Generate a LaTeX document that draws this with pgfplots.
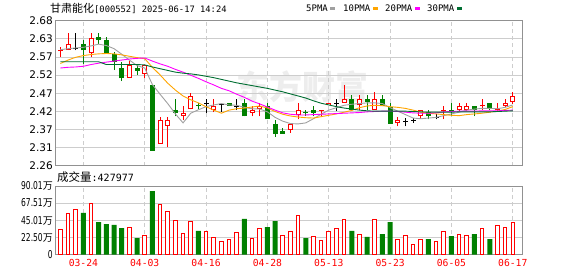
\documentclass[border=0pt]{standalone}
\usepackage{pgfplots}
\pgfplotsset{compat=1.18}
\usepackage{pgfplotstable}
\usepackage{fontspec}
\setmainfont{DejaVu Sans}
\newfontfamily\cjk{Noto Sans CJK SC}
\newfontfamily\mono{DejaVu Sans Mono}
\newfontfamily\narrow[FakeStretch=0.7]{DejaVu Sans}
\definecolor{kred}{RGB}{255,0,0}
\definecolor{kgreen}{RGB}{0,128,0}
\definecolor{ma5}{RGB}{160,160,160}
\definecolor{ma10}{RGB}{255,165,0}
\definecolor{ma20}{RGB}{255,0,255}
\definecolor{ma30}{RGB}{0,110,50}
\definecolor{gridc}{RGB}{205,205,205}
\definecolor{framec}{RGB}{145,145,145}
\newcommand\wan{{\cjk\fontsize{10}{10}\selectfont 万}}

\pgfplotstableread{
i O H L C
0 2.592 2.604 2.575 2.595
1 2.595 2.644 2.595 2.612
4 2.585 2.644 2.576 2.631
9 2.515 2.563 2.515 2.551
11 2.526 2.553 2.513 2.551
13 2.324 2.400 2.324 2.391
14 2.375 2.400 2.313 2.391
16 2.403 2.432 2.391 2.412
17 2.423 2.472 2.423 2.461
20 2.422 2.452 2.415 2.434
25 2.414 2.432 2.403 2.421
26 2.424 2.442 2.403 2.433
30 2.364 2.384 2.355 2.381
31 2.408 2.441 2.394 2.420
34 2.419 2.421 2.405 2.421
35 2.436 2.442 2.436 2.442
37 2.443 2.493 2.443 2.452
39 2.435 2.464 2.422 2.452
41 2.422 2.473 2.422 2.452
44 2.383 2.400 2.374 2.393
47 2.403 2.421 2.396 2.420
50 2.418 2.434 2.394 2.421
52 2.421 2.442 2.418 2.432
53 2.421 2.442 2.418 2.432
55 2.432 2.452 2.421 2.433
57 2.420 2.442 2.418 2.421
58 2.434 2.452 2.429 2.441
59 2.444 2.473 2.439 2.462
}\redtab

\pgfplotstableread{
i O H L C
3 2.612 2.625 2.555 2.594
5 2.632 2.644 2.613 2.625
6 2.625 2.632 2.585 2.587
7 2.584 2.588 2.537 2.560
8 2.543 2.561 2.505 2.513
10 2.543 2.553 2.524 2.534
12 2.493 2.493 2.303 2.303
15 2.421 2.452 2.403 2.414
18 2.434 2.443 2.424 2.433
22 2.442 2.442 2.434 2.434
24 2.442 2.452 2.403 2.403
27 2.432 2.442 2.394 2.394
28 2.380 2.391 2.343 2.353
29 2.360 2.370 2.353 2.353
32 2.413 2.421 2.404 2.412
33 2.421 2.432 2.403 2.413
38 2.452 2.464 2.422 2.422
40 2.452 2.464 2.422 2.444
42 2.452 2.464 2.432 2.432
43 2.429 2.441 2.382 2.382
48 2.415 2.421 2.394 2.403
51 2.421 2.442 2.403 2.418
54 2.432 2.432 2.403 2.421
56 2.441 2.441 2.421 2.425
}\greentab

\pgfplotstableread{
i O H L C
2 2.599 2.644 2.594 2.599
19 2.439 2.452 2.412 2.439
21 2.437 2.442 2.415 2.437
23 2.431 2.452 2.421 2.431
36 2.441 2.452 2.418 2.441
45 2.388 2.399 2.374 2.388
46 2.391 2.398 2.383 2.391
49 2.400 2.410 2.394 2.400
}\blacktab

\pgfplotstableread{
i m5 m10 m20 m30
0 2.596 2.556 2.543 2.561
1 2.599 2.566 2.545 2.561
2 2.601 2.574 2.546 2.561
3 2.603 2.579 2.548 2.561
4 2.607 2.582 2.553 2.561
5 2.612 2.584 2.557 2.561
6 2.608 2.585 2.560 2.553
7 2.599 2.584 2.563 2.553
8 2.583 2.581 2.566 2.553
9 2.566 2.577 2.569 2.553
10 2.550 2.573 2.571 2.553
11 2.543 2.570 2.572 2.552
12 2.495 2.545 2.563 2.546
13 2.467 2.523 2.555 2.541
14 2.440 2.499 2.548 2.536
15 2.410 2.479 2.539 2.531
16 2.384 2.462 2.531 2.528
17 2.412 2.451 2.522 2.526
18 2.422 2.442 2.513 2.523
19 2.431 2.431 2.503 2.519
20 2.436 2.421 2.494 2.515
21 2.440 2.412 2.484 2.510
22 2.436 2.421 2.477 2.505
23 2.435 2.425 2.467 2.500
24 2.429 2.427 2.458 2.496
25 2.425 2.430 2.447 2.492
26 2.424 2.433 2.439 2.488
27 2.416 2.427 2.430 2.484
28 2.400 2.417 2.421 2.479
29 2.389 2.409 2.413 2.474
30 2.382 2.404 2.409 2.468
31 2.381 2.401 2.407 2.462
32 2.384 2.399 2.407 2.456
33 2.396 2.398 2.408 2.448
34 2.409 2.402 2.409 2.441
35 2.421 2.406 2.410 2.436
36 2.428 2.410 2.411 2.431
37 2.435 2.415 2.412 2.427
38 2.438 2.420 2.413 2.424
39 2.440 2.428 2.414 2.421
40 2.442 2.433 2.416 2.419
41 2.442 2.435 2.417 2.418
42 2.440 2.434 2.418 2.418
43 2.428 2.431 2.418 2.418
44 2.418 2.429 2.417 2.418
45 2.408 2.426 2.415 2.418
46 2.398 2.421 2.413 2.417
47 2.396 2.415 2.412 2.416
48 2.398 2.412 2.412 2.415
49 2.400 2.410 2.413 2.415
50 2.405 2.408 2.416 2.415
51 2.410 2.406 2.417 2.415
52 2.415 2.405 2.418 2.416
53 2.421 2.408 2.418 2.416
54 2.424 2.410 2.418 2.416
55 2.426 2.412 2.419 2.416
56 2.426 2.415 2.419 2.416
57 2.425 2.418 2.419 2.417
58 2.429 2.423 2.420 2.418
59 2.436 2.431 2.421 2.419
}\matab

\pgfplotstableread{
i V
0 33.4
1 54.4
2 59.7
4 67.6
9 36.0
11 25.5
13 66.3
14 57.1
15 45.2
16 28.1
17 43.9
19 30.7
20 22.8
21 17.6
22 19.8
23 29.4
25 21.5
26 34.7
29 25.5
30 30.7
31 51.8
33 24.1
34 18.9
35 30.7
36 35.1
37 46.5
39 26.8
41 46.5
44 20.2
45 25.5
46 13.6
47 20.2
49 17.6
50 30.7
52 26.8
53 25.5
55 35.1
57 38.6
58 36.4
59 43.0
}\volred

\pgfplotstableread{
i V
3 54.9
5 43.0
6 40.4
7 39.1
8 35.1
10 21.9
12 83.8
18 31.2
24 47.0
27 36.4
28 44.3
32 21.9
38 31.2
40 23.3
42 27.2
43 43.0
48 20.6
51 24.6
54 27.2
56 20.6
}\volgreen

\pgfplotsset{
  kbase/.style={
    scale only axis, width=467pt,
    xmin=-0.7, xmax=60.2,
    xtick={3,11,19,27,35,43,51,59},
    major tick length=0pt,
    ymajorgrids, xmajorgrids,
    y grid style={gridc, line width=0.8pt},
    x grid style={gridc, dash pattern=on 4pt off 3pt, line width=0.8pt},
    axis line style={framec, line width=1pt},
  },
  wick/.style={forget plot, draw=none, error bars/.cd, y dir=plus, y explicit, error mark=none,
    error bar style={draw=#1, line width=1pt}},
  body/.style={forget plot, draw=none, error bars/.cd, y dir=plus, y explicit, error mark=none,
    error bar style={draw=#1, line width=5pt}},
}

\begin{document}
\begin{tikzpicture}
\path[use as bounding box] (0pt,0pt) rectangle (578pt,276pt);
\node[text=black!7, font=\cjk\bfseries\fontsize{33}{33}\selectfont] at (302pt,189pt) {东方财富};
\node[anchor=west, inner sep=0pt] at (50pt,268pt) {{\cjk\fontsize{11}{11}\selectfont 甘肃能化}{\mono\fontsize{8.8}{10}\selectfont[000552] 2025-06-17 14:24}};
\begin{scope}[every node/.style={anchor=west, inner sep=0pt, font=\mono\fontsize{9}{10}\selectfont}]
\node at (306pt,268pt) {5PMA};
\node at (343pt,268pt) {10PMA};
\node at (385pt,268pt) {20PMA};
\node at (427pt,268pt) {30PMA};
\end{scope}
\fill[ma5] (330pt,265.8pt) rectangle (335pt,268.8pt);
\fill[ma10] (373pt,265.8pt) rectangle (378pt,268.8pt);
\fill[ma20] (415pt,265.8pt) rectangle (420pt,268.8pt);
\fill[ma30] (457pt,265.8pt) rectangle (462pt,268.8pt);
\node[anchor=west, inner sep=0pt] at (57pt,99pt) {{\cjk\fontsize{11.5}{12}\selectfont 成交量}{\mono\fontsize{10}{11}\selectfont:427977}};

\begin{axis}[kbase,
  at={(55pt,110.3pt)}, anchor=south west, height=145pt,
  ymin=2.26, ymax=2.68,
  xticklabels={},
  ytick={2.26,2.3125,2.365,2.4175,2.47,2.5225,2.575,2.6275,2.68},
  yticklabels={2.26,2.31,2.37,2.42,2.47,2.52,2.57,2.63,2.68},
  yticklabel style={font=\fontsize{10.5}{12}\selectfont, inner sep=1pt, xshift=-1pt},
]
% red candles
\addplot[wick=kred] table[x=i, y=L, y error expr=\thisrow{H}-\thisrow{L}] {\redtab};
\addplot[body=kred] table[x=i, y=O, y error expr={max(\thisrow{C}-\thisrow{O},0.003)}] {\redtab};
\addplot[forget plot, draw=none, error bars/.cd, y dir=plus, y explicit, error mark=none,
    error bar style={draw=white, line width=3pt}]
  table[x=i, y expr=\thisrow{O}+0.0029, y error expr={max(\thisrow{C}-\thisrow{O}-0.0058,0)}] {\redtab};
% green candles
\addplot[wick=kgreen] table[x=i, y=L, y error expr=\thisrow{H}-\thisrow{L}] {\greentab};
\addplot[body=kgreen] table[x=i, y=C, y error expr={max(\thisrow{O}-\thisrow{C},0.003)}] {\greentab};
% black doji
\addplot[wick=black] table[x=i, y=L, y error expr=\thisrow{H}-\thisrow{L}] {\blacktab};
\addplot[body=black] table[x=i, y expr=\thisrow{O}-0.0015, y error expr=0.003] {\blacktab};
% moving averages
\addplot[ma5, line width=0.9pt] table[x=i, y=m5] {\matab};
\addplot[ma10, line width=0.9pt] table[x=i, y=m10] {\matab};
\addplot[ma20, line width=0.9pt] table[x=i, y=m20] {\matab};
\addplot[ma30, line width=0.9pt] table[x=i, y=m30] {\matab};
\end{axis}

\begin{axis}[kbase,
  at={(55pt,21.3pt)}, anchor=south west, height=68.4pt,
  ymin=0, ymax=90.01,
  xticklabels={03-24,04-03,04-16,04-28,05-13,05-23,06-05,06-17},
  xticklabel style={font=\mono\fontsize{9.7}{11}\selectfont, text=kred, yshift=-1pt},
  ytick={0,22.5,45.01,67.51,90.01},
  yticklabels={0,{22.50\wan},{45.01\wan},{67.51\wan},{90.01\wan}},
  yticklabel style={font=\narrow\fontsize{10.8}{12}\selectfont, inner sep=1pt, xshift=-1pt},
]
\addplot[ybar, bar width=3.6pt, bar shift=0pt, draw=kred, fill=white, line width=1pt] table[x=i, y=V] {\volred};
\addplot[ybar, bar width=5pt, bar shift=0pt, draw=none, fill=kgreen] table[x=i, y=V] {\volgreen};
\end{axis}
\end{tikzpicture}
\end{document}
